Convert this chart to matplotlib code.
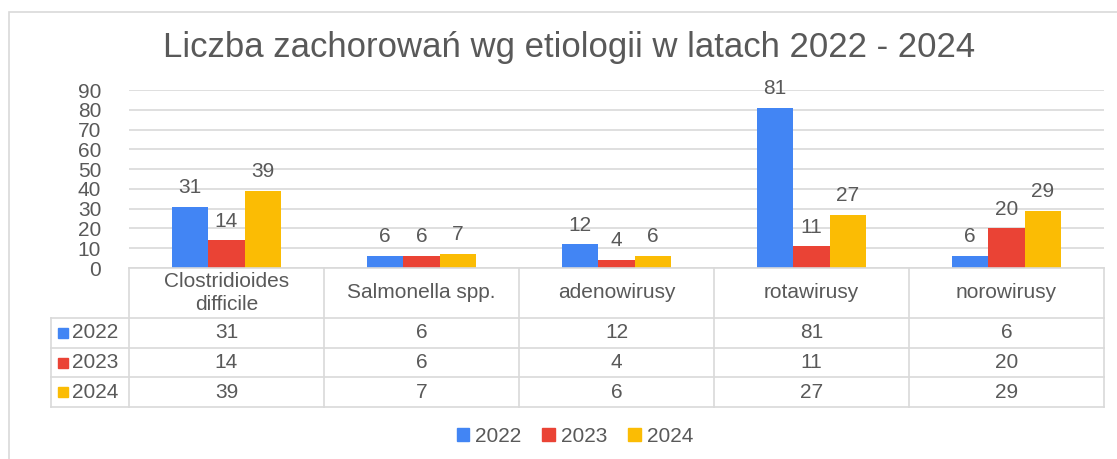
import matplotlib
matplotlib.use("Agg")
import matplotlib.pyplot as plt
from matplotlib.patches import Rectangle, Patch
from matplotlib.lines import Line2D
import numpy as np

plt.rcParams['font.family'] = ['Liberation Sans', 'DejaVu Sans']

title = "Liczba zachorowań wg etiologii w latach 2022 - 2024"
categories = ["Clostridioides\ndifficile", "Salmonella spp.", "adenowirusy", "rotawirusy", "norowirusy"]
series_names = ["2022", "2023", "2024"]
values_2022 = [31, 6, 12, 81, 6]
values_2023 = [14, 6, 4, 11, 20]
values_2024 = [39, 7, 6, 27, 29]
yticks = [0, 10, 20, 30, 40, 50, 60, 70, 80, 90]
colors = ["#4285F4", "#EA4335", "#FBBC04"]

series = [values_2022, values_2023, values_2024]

W, H = 1117, 459
fig = plt.figure(figsize=(W / 100, H / 100), dpi=100)
TXT = "#595959"
GRID = "#d9d9d9"
FS = 15

def fx(px):
    return px / W

def fy(py):
    return 1 - py / H

# outer border
fig.patches.append(Rectangle((fx(9), -0.2), 1.2, fy(12) + 0.2, transform=fig.transFigure,
                             fill=False, edgecolor=GRID, linewidth=1.2))

left, right, top, bottom = 129, 1104, 90, 268
ax = fig.add_axes([fx(left), fy(bottom), fx(right) - fx(left), fy(top) - fy(bottom)])
x = np.arange(len(categories))
bw = 0.187
for i, (vals, c) in enumerate(zip(series, colors)):
    bars = ax.bar(x + (i - 1) * bw, vals, width=bw, color=c, zorder=3)
    for b, v in zip(bars, vals):
        ax.annotate(str(v), (b.get_x() + b.get_width() / 2, v), xytext=(0, 7),
                    textcoords="offset points", ha="center", va="bottom",
                    fontsize=FS, color=TXT)
ax.set_xlim(-0.5, len(categories) - 0.5)
ax.set_ylim(0, 90)
ax.set_yticks(yticks)
ax.set_yticklabels([str(t) for t in yticks], fontsize=FS, color=TXT)
ax.tick_params(axis="y", length=0, pad=20)
ax.tick_params(axis="x", length=0, labelbottom=False)
ax.yaxis.grid(True, color=GRID, linewidth=1.2, zorder=0)
for s in ax.spines.values():
    s.set_visible(False)

# data table
tx0 = 51
rows_y = [268, 318, 348, 377, 407]
col_w = (right - left) / len(categories)
col_x = [left + k * col_w for k in range(len(categories) + 1)]
lw = 1.2
lines = []
lines.append(([left, right], [rows_y[0], rows_y[0]]))
for yy in rows_y[1:]:
    lines.append(([tx0, right], [yy, yy]))
for xx in col_x:
    lines.append(([xx, xx], [rows_y[0], rows_y[-1]]))
lines.append(([tx0, tx0], [rows_y[1], rows_y[-1]]))
for xs, ys in lines:
    fig.add_artist(Line2D([fx(v) for v in xs], [fy(v) for v in ys], color=GRID,
                          linewidth=lw, transform=fig.transFigure))

hy = (rows_y[0] + rows_y[1]) / 2
for k, cat in enumerate(categories):
    cx = (col_x[k] + col_x[k + 1]) / 2
    fig.text(fx(cx), fy(hy), cat, ha="center", va="center", fontsize=FS, color=TXT,
             linespacing=1.25)
for r, (name, vals, c) in enumerate(zip(series_names, series, colors)):
    cy = (rows_y[r + 1] + rows_y[r + 2]) / 2
    fig.patches.append(Rectangle((fx(58), fy(cy + 5)), fx(10), 10 / H,
                                 transform=fig.transFigure, color=c))
    fig.text(fx(72), fy(cy), name, ha="left", va="center", fontsize=FS, color=TXT)
    for k, v in enumerate(vals):
        cx = (col_x[k] + col_x[k + 1]) / 2
        fig.text(fx(cx), fy(cy), str(v), ha="center", va="center", fontsize=FS, color=TXT)

# title
fig.text(fx(569), fy(47), title, ha="center", va="center", fontsize=25, color=TXT)

# legend
handles = [Patch(color=c, label=n) for c, n in zip(colors, series_names)]
leg = fig.legend(handles=handles, loc="center", bbox_to_anchor=(fx(575), fy(436)), ncol=3,
                 frameon=False, fontsize=FS, handlelength=0.6, handleheight=0.6,
                 handletextpad=0.3, columnspacing=1.0, borderaxespad=0)
for t in leg.get_texts():
    t.set_color(TXT)

fig.savefig("out.png", dpi=100, facecolor="white")
